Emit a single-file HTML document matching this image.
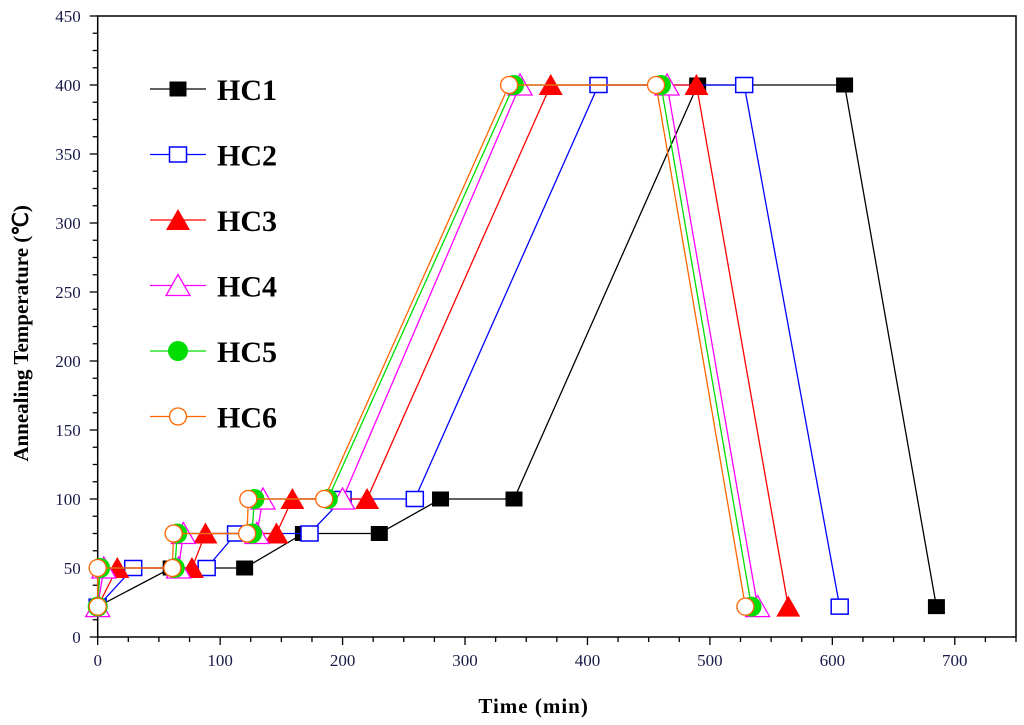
<!DOCTYPE html>
<html><head><meta charset="utf-8"><style>
html,body{margin:0;padding:0;background:#fff;}
svg{display:block;font-family:"Liberation Serif",serif;}
</style></head><body>
<svg id="chart" width="1024" height="725" xmlns="http://www.w3.org/2000/svg"></svg>
<script>
const xTicks=[0,100,200,300,400,500,600,700];
const yTicks=[0,50,100,150,200,250,300,350,400,450];
const seriesNames=["HC1","HC2","HC3","HC4","HC5","HC6"];
const hc1x=[0,60,120,168,230,280,340,490,610,685];
const hc1y=[22,50,50,75,75,100,100,400,400,22];
const hc2x=[0,29,89,113,173,200,259,409,528,606];
const hc2y=[22,50,50,75,75,100,100,400,400,22];
const hc3x=[0,16,77,88,146,159,220,370,489,564];
const hc3y=[22,50,50,75,75,100,100,400,400,22];
const hc4x=[0,5,66,70,130,135,200,345,465,539];
const hc4y=[22,50,50,75,75,100,100,400,400,22];
const hc5x=[0,2,63,65,126,128,188,340,460,534];
const hc5y=[22,50,50,75,75,100,100,400,400,22];
const hc6x=[0,0,61,62,122,123,185,336,456,529];
const hc6y=[22,50,50,75,75,100,100,400,400,22];

const X0=97.7,X1=1016,Y0=637,Y1=16,xMax=750,yMax=450;
const sx=v=>X0+v*(X1-X0)/xMax, sy=v=>Y0-v*(Y0-Y1)/yMax;
const NS="http://www.w3.org/2000/svg", svg=document.getElementById('chart');
function mk(t,a,p){const e=document.createElementNS(NS,t);for(const k in a)e.setAttribute(k,a[k]);(p||svg).appendChild(e);return e;}

const frame=mk('rect',{x:X0,y:Y1,width:X1-X0,height:Y0-Y1,fill:'none',stroke:'#000','stroke-width':1.5});



for(let v=0;v<=xMax;v+=25){const maj=v%100===0;const l=mk('line',{x1:sx(v),x2:sx(v),y1:Y0,y2:Y0+(maj?8:5),stroke:'#000','stroke-width':1.3});

}
xTicks.forEach(v=>{const t=mk('text',{x:sx(v),y:Y0+29,'text-anchor':'middle','font-size':17,fill:'#1a1a4a'});t.textContent=v;

});
for(let v=0;v<=yMax;v+=12.5){const maj=v%50===0;const l=mk('line',{x1:X0-(maj?8:5),x2:X0,y1:sy(v),y2:sy(v),stroke:'#000','stroke-width':1.3});

}
yTicks.forEach(v=>{const t=mk('text',{x:X0-17,y:sy(v)+6,'text-anchor':'end','font-size':17,fill:'#1a1a4a'});t.textContent=v;

});
const xt=mk('text',{x:sx(356),y:713,'text-anchor':'middle','font-size':21,'font-weight':'bold','letter-spacing':'1'});xt.textContent='Time (min)';


const yt=mk('text',{x:0,y:0,'text-anchor':'middle','font-size':21,'font-weight':'bold',transform:`translate(28,${sy(220)}) rotate(-90)`});yt.textContent='Annealing Temperature (℃)';



const colors=['#000','#0000ff','#ff0000','#ff00ff','#00dd00','#ff6600'];
const xs=[hc1x,hc2x,hc3x,hc4x,hc5x,hc6x], ys=[hc1y,hc2y,hc3y,hc4y,hc5y,hc6y];
function marker(i,cx,cy,g){const c=colors[i];let e;
 if(i===0)e=mk('rect',{x:cx-8.5,y:cy-7.5,width:17,height:15,fill:c},g);
 else if(i===1)e=mk('rect',{x:cx-8.5,y:cy-7.5,width:17,height:15,fill:'#fff',stroke:c,'stroke-width':1.5},g);
 else if(i===2)e=mk('polygon',{points:`${cx},${cy-11} ${cx-12},${cy+10} ${cx+12},${cy+10}`,fill:c},g);
 else if(i===3)e=mk('polygon',{points:`${cx},${cy-11} ${cx-12},${cy+10} ${cx+12},${cy+10}`,fill:'#fff',stroke:c,'stroke-width':1.3},g);
 else if(i===4)e=mk('circle',{cx,cy,r:10,fill:c},g);
 else e=mk('circle',{cx,cy,r:8.5,fill:'#fff',stroke:c,'stroke-width':1.3},g);
 return e;}
for(let i=0;i<6;i++){const g=mk('g',{});
 
 
 const pts=xs[i].map((x,j)=>sx(x)+','+sy(ys[i][j])).join(' ');
 const pl=mk('polyline',{points:pts,fill:'none',stroke:colors[i],'stroke-width':1.3},g);
 
 
 xs[i].forEach((x,j)=>{const m=marker(i,sx(x),sy(ys[i][j]),g);
  
  });
}
const lg=mk('g',{});


for(let i=0;i<6;i++){const cy=89+i*65.5;const g=mk('g',{},lg);
 
 
 mk('line',{x1:150,x2:206,y1:cy,y2:cy,stroke:colors[i],'stroke-width':1.3},g);
 marker(i,178,cy,g);
 const t=mk('text',{x:217,y:cy+11,'font-size':30,'font-weight':'bold'},g);t.textContent=seriesNames[i];}
</script>
</body></html>
